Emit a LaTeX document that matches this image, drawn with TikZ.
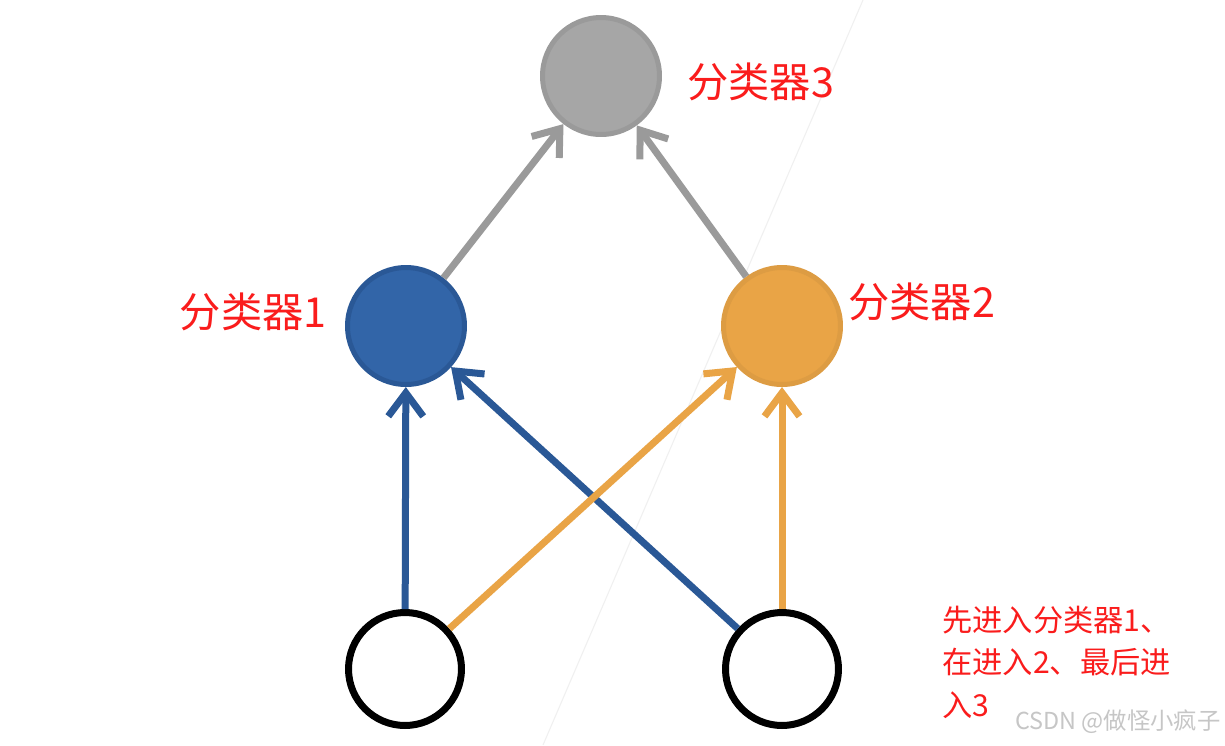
\documentclass[tikz,border=0pt]{standalone}
\usepackage{fontspec}
\newfontfamily\cjk{Noto Sans CJK SC}
\usepackage{tikz}
\usetikzlibrary{arrows.meta,positioning}

\definecolor{clfgray}{RGB}{166,166,166}
\definecolor{clfgrayline}{RGB}{154,154,154}
\definecolor{clfblue}{RGB}{50,101,168}
\definecolor{clfblueline}{RGB}{42,88,150}
\definecolor{clforange}{RGB}{233,164,70}
\definecolor{lblred}{RGB}{250,28,28}

\begin{document}
\begin{tikzpicture}[
    x=0.02cm, y=-0.02cm,
    clfnode/.style={circle, line width=0.1cm, minimum size=2.34cm, inner sep=0pt},
    innode/.style={circle, draw=black, line width=0.14cm, minimum size=2.26cm, inner sep=0pt},
    lbl/.style={text=lblred, inner sep=0pt, font=\cjk\fontsize{23.5}{27}\selectfont},
    link/.style={line width=0.14cm, -{Straight Barb[length=0.47cm, width=0.7cm]}},
]
\useasboundingbox (0,0) rectangle (1225,745);
\fill[white] (0,0) rectangle (1225,745);
\draw[gray!12, line width=0.6pt] (863,0) -- (543,745);

% classifiers
\node[clfnode, fill=clfgray, draw=clfgrayline]      (clf3) at (601,76)  {};
\node[clfnode, fill=clfblue, draw=clfblueline]      (clf1) at (406,326) {};
\node[clfnode, fill=clforange, draw=clforange!95!black] (clf2) at (782,326) {};
% inputs
\node[innode] (inA) at (405,669) {};
\node[innode] (inB) at (782,669) {};

\node[lbl, right=0.5cm of clf3, yshift=-0.12cm] (lbl3) {分类器3};
\node[lbl, left=0.36cm of clf1, yshift=0.28cm]  (lbl1) {分类器1};
\node[lbl, right=0.1cm of clf2, yshift=0.48cm]  (lbl2) {分类器2};

\node[text=lblred, inner sep=0pt, anchor=north west, align=left,
      font=\cjk\fontsize{17.2}{24}\selectfont] (note) at (942,606)
      {先进入分类器1、\\在进入2、最后进\\入3};
\node[text=gray!45, inner sep=0pt, anchor=west,
      font=\cjk\fontsize{13.3}{15}\selectfont] (mark) at (1015,722) {CSDN @做怪小疯子};

\draw[link, clfblueline] (inA) -- (clf1);
\draw[link, clfblueline] (inB) -- (clf1);
\draw[link, clforange] (inA) -- (clf2);
\draw[link, clforange] (inB) -- (clf2);
\draw[link, clfgrayline] (clf1) -- (clf3);
\draw[link, clfgrayline] (clf2) -- (clf3);
\end{tikzpicture}
\end{document}
